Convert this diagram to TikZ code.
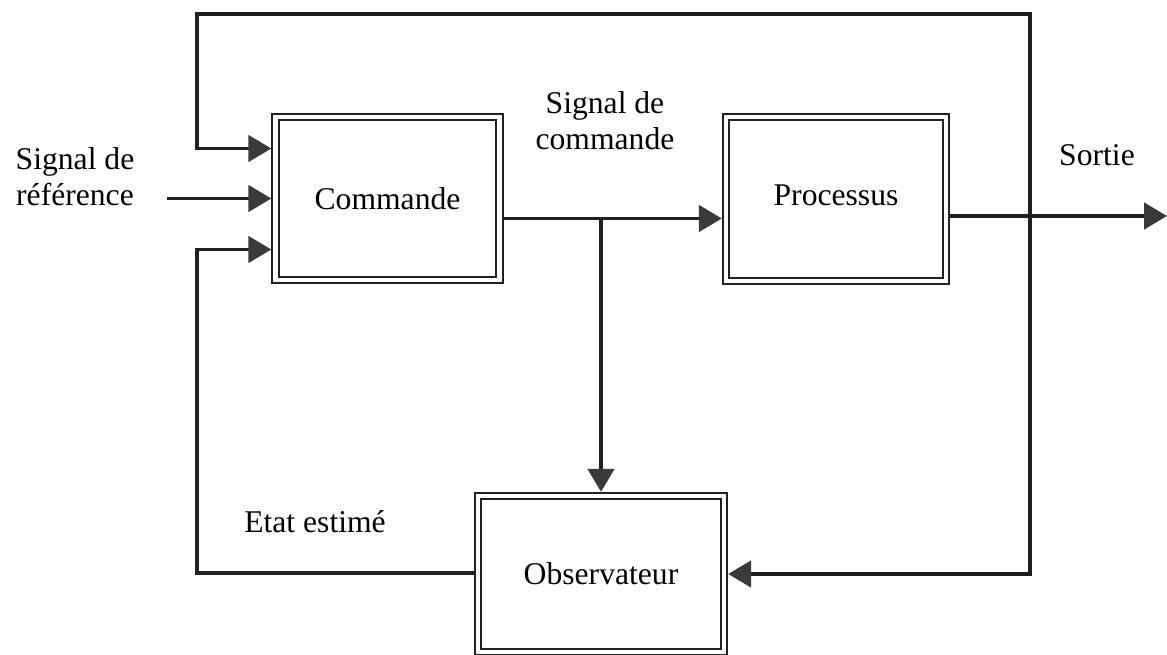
\documentclass[tikz,border=0pt]{standalone}
\usepackage{fontspec}
\setmainfont{Liberation Serif}
\usepackage{tikz}
\usetikzlibrary{positioning, arrows.meta, calc}

\definecolor{trait}{HTML}{202020}
\definecolor{pointe}{HTML}{3A3A3A}

\begin{document}
\begin{tikzpicture}[x=0.02cm, y=-0.02cm,
    font=\fontsize{18}{20.5}\selectfont,
    bloc/.style={draw=trait, line width=1.2pt, double=white,
        double distance=2.4pt, outer sep=2.4pt, align=center},
    fleche/.style={draw=trait, line width=1.8pt,
        -{Triangle[length=13pt, width=15pt, color=pointe]}}]

\useasboundingbox (0,0) rectangle (1167,655);

\node[bloc,
        minimum width=4.48cm,
        minimum height=3.26cm] (cmd) at (387.5,198.5) {Commande};
\node[bloc,
        minimum width=4.4cm,
        minimum height=3.28cm] (proc) at (836,199) {};
\node (lproc) at (836,195) {Processus};
\node[bloc,
        minimum width=4.92cm,
        minimum height=3.12cm] (obs) at (601,574) {Observateur};

\node[align=center] (lref) at (75,177) {Signal de\\référence};
\node[align=center] (lcmd) at (605,121) {Signal de\\commande};
\node (lsortie) at (1097,155) {Sortie};
\node (letat) at (315,522) {Etat estimé};

\coordinate (ref) at (167,198.5);
\coordinate (sc) at ($(cmd.east) + (0, 20)$);
\coordinate (sp) at ($(proc.east) + (0, 17)$);
\coordinate (jonc) at (1030, 216);
\coordinate (sortie) at (1167, 216);
\coordinate (haut) at (197, 14);
\coordinate (retour) at (197, 573);

% entrees de la commande
\draw [fleche] (ref) -- (cmd.west);

\draw [fleche]
    (jonc) -- (jonc |- haut) -- (haut) |- ($(cmd.west) + (0, -50)$);

\draw [fleche]
    (obs.west |- retour) -- (retour) |- ($(cmd.west) + (0, 51)$);

% signal de commande
\draw [fleche] (sc) -- (sc -| proc.west);
\draw [fleche] (sc -| obs.north) -- (obs.north);

% sortie
\draw [fleche] (sp) -- (sortie);
\draw [fleche] (jonc) |- (obs.east);

\end{tikzpicture}
\end{document}
